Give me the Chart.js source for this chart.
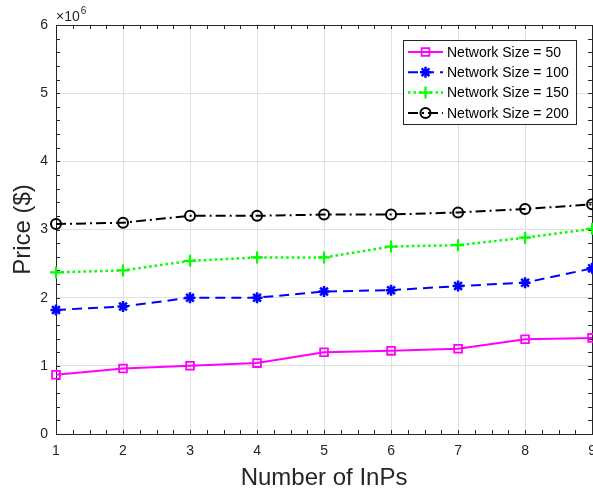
<!DOCTYPE html>
<html>
<head>
<meta charset="utf-8">
<title>Price vs Number of InPs</title>
<script src="https://cdn.jsdelivr.net/npm/chart.js@4.4.0/dist/chart.umd.min.js"></script>
<style>
	body { margin: 0; overflow: hidden; background: #fff; }
</style>
</head>
<body>
<canvas id="priceChart" width="605" height="493"></canvas>
<script>
var inps = [1, 2, 3, 4, 5, 6, 7, 8, 9];
var price50 = [870000, 960000, 1000000, 1040000, 1200000, 1220000, 1250000, 1390000, 1410000];
var price100 = [1820000, 1870000, 2000000, 2000000, 2090000, 2110000, 2170000, 2220000, 2430000];
var price150 = [2370000, 2400000, 2540000, 2590000, 2590000, 2750000, 2770000, 2880000, 3010000];
var price200 = [3080000, 3100000, 3200000, 3200000, 3220000, 3220000, 3250000, 3300000, 3370000];
var seriesLabels = ["Network Size = 50", "Network Size = 100", "Network Size = 150", "Network Size = 200"];

var axisColor = "#262626";
var font = "'Liberation Sans', Arial, Helvetica, sans-serif";

function points(values) {
	return inps.map(function (n, i) { return { x: n, y: values[i] }; });
}

// box around the axes with inward major and minor ticks, like a MATLAB plot
var axesBox = {
	id: "axesBox",
	beforeDatasetsDraw: function (chart) {
		var ctx = chart.ctx, a = chart.chartArea;
		var xs = chart.scales.x, ys = chart.scales.y;
		var len = 4, v, p;
		ctx.save();
		ctx.strokeStyle = axisColor;
		ctx.lineWidth = 1;
		ctx.beginPath();
		for (v = 1; v <= 9.001; v += 0.25) {
			p = Math.round(xs.getPixelForValue(v)) + 0.5;
			ctx.moveTo(p, a.bottom); ctx.lineTo(p, a.bottom - len);
			ctx.moveTo(p, a.top); ctx.lineTo(p, a.top + len);
		}
		for (v = 0; v <= 6000001; v += 200000) {
			p = Math.round(ys.getPixelForValue(v)) + 0.5;
			ctx.moveTo(a.left, p); ctx.lineTo(a.left + len, p);
			ctx.moveTo(a.right, p); ctx.lineTo(a.right - len, p);
		}
		ctx.stroke();
		ctx.strokeRect(Math.round(a.left) + 0.5, Math.round(a.top) + 0.5,
			Math.round(a.right - a.left), Math.round(a.bottom - a.top));

		// exponent of the y axis
		ctx.fillStyle = axisColor;
		ctx.textBaseline = "alphabetic";
		ctx.textAlign = "left";
		ctx.font = "14px " + font;
		ctx.fillText("\u00d710", a.left, a.top - 4);
		var w = ctx.measureText("\u00d710").width;
		ctx.font = "10px " + font;
		ctx.fillText("6", a.left + w + 1, a.top - 11);
		ctx.restore();
	}
};

// legend with line samples and markers
var boxLegend = {
	id: "boxLegend",
	afterDraw: function (chart) {
		var ctx = chart.ctx;
		var x0 = 403, y0 = 40, w = 173, h = 84;
		ctx.save();
		ctx.fillStyle = "#fff";
		ctx.fillRect(x0, y0, w, h);
		ctx.strokeStyle = axisColor;
		ctx.lineWidth = 1;
		ctx.strokeRect(x0 + 0.5, y0 + 0.5, w, h);
		chart.data.datasets.forEach(function (ds, i) {
			var y = 52 + i * 20.3;
			ctx.strokeStyle = ds.borderColor;
			ctx.lineWidth = ds.borderWidth;
			ctx.setLineDash(ds.borderDash || []);
			ctx.beginPath();
			ctx.moveTo(408, y);
			ctx.lineTo(443, y);
			ctx.stroke();
			ctx.setLineDash([]);
			ctx.lineWidth = ds.pointBorderWidth;
			ctx.fillStyle = ds.pointBackgroundColor;
			Chart.helpers.drawPoint(ctx, {
				pointStyle: ds.pointStyle,
				radius: ds.pointRadius,
				borderWidth: ds.pointBorderWidth,
				rotation: 0
			}, 425.5, y);
			ctx.fillStyle = "#000";
			ctx.font = "14px " + font;
			ctx.textBaseline = "middle";
			ctx.textAlign = "left";
			ctx.fillText(ds.label, 447, y + 1);
		});
		ctx.restore();
	}
};

var priceChart = new Chart(document.getElementById("priceChart"), {
	type: "line",
	data: {
		datasets: [
			{
				label: seriesLabels[0],
				data: points(price50),
				borderColor: "#ff00ff",
				borderWidth: 2,
				pointStyle: "rect",
				pointRadius: 5.5,
				pointBorderWidth: 1.8,
				pointBackgroundColor: "rgba(0,0,0,0)",
				pointBorderColor: "#ff00ff"
			},
			{
				label: seriesLabels[1],
				data: points(price100),
				borderColor: "#0000ff",
				borderWidth: 2,
				borderDash: [10, 6],
				pointStyle: "star",
				pointRadius: 5.5,
				pointBorderWidth: 2.5,
				pointBackgroundColor: "rgba(0,0,0,0)",
				pointBorderColor: "#0000ff"
			},
			{
				label: seriesLabels[2],
				data: points(price150),
				borderColor: "#00ff00",
				borderWidth: 2.5,
				borderDash: [2.5, 3],
				pointStyle: "cross",
				pointRadius: 6,
				pointBorderWidth: 2.2,
				pointBackgroundColor: "rgba(0,0,0,0)",
				pointBorderColor: "#00ff00"
			},
			{
				label: seriesLabels[3],
				data: points(price200),
				borderColor: "#000000",
				borderWidth: 2,
				borderDash: [10, 4, 2, 4],
				pointStyle: "circle",
				pointRadius: 5,
				pointBorderWidth: 2,
				pointBackgroundColor: "rgba(0,0,0,0)",
				pointBorderColor: "#000000"
			}
		]
	},
	options: {
		responsive: false,
		animation: false,
		devicePixelRatio: 1,
		clip: false,
		layout: { padding: { top: 25, left: 0, right: 0, bottom: 0 } },
		plugins: {
			legend: { display: false },
			tooltip: { enabled: false }
		},
		elements: { line: { tension: 0 } },
		scales: {
			x: {
				type: "linear",
				min: 1,
				max: 9,
				ticks: {
					stepSize: 1,
					padding: 9,
					color: axisColor,
					font: { family: font, size: 14 }
				},
				grid: { color: "#e0e0e0", drawTicks: false },
				border: { display: false },
				title: {
					display: true,
					text: "Number of InPs",
					color: axisColor,
					font: { family: font, size: 24 },
					padding: { top: 0, bottom: 0 }
				},
				afterFit: function (scale) { scale.height = 59; }
			},
			y: {
				type: "linear",
				min: 0,
				max: 6000000,
				ticks: {
					stepSize: 1000000,
					padding: 8,
					color: axisColor,
					font: { family: font, size: 14 },
					callback: function (v) { return v / 1000000; }
				},
				grid: { color: "#e0e0e0", drawTicks: false },
				border: { display: false },
				title: {
					display: true,
					text: "Price ($)",
					color: axisColor,
					font: { family: font, size: 24 },
					padding: { top: 9, bottom: 0 }
				},
				afterFit: function (scale) { scale.width = 56; }
			}
		}
	},
	plugins: [axesBox, boxLegend]
});
</script>
</body>
</html>
